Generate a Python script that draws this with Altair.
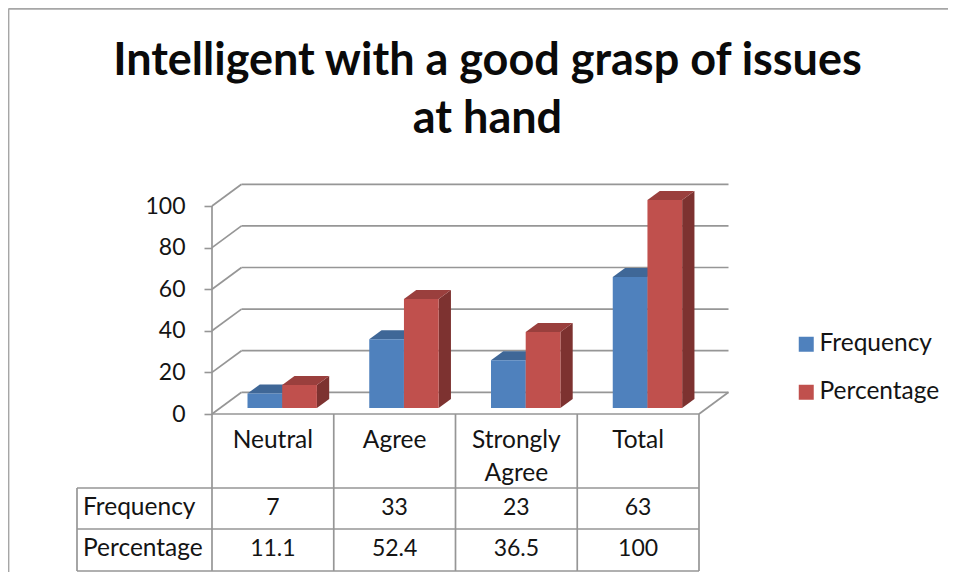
import altair as alt
import pandas as pd

categories = ["Neutral", "Agree", "Strongly Agree", "Total"]
frequency = [7, 33, 23, 63]
percentage = [11.1, 52.4, 36.5, 100]
table_freq = ["7", "33", "23", "63"]
table_pct = ["11.1", "52.4", "36.5", "100"]
ticks = [0, 20, 40, 60, 80, 100]

FONT = "Lato"
INK = "#141414"
GRID = "#969696"
W, H = 487, 208
PXX = W / 4
PXY = H / 100
DX, DY = 29.5 / PXX, 21.7 / PXY      # wall depth
BDX, BDY = 12.3 / PXX, 9.0 / PXY     # bar depth
LIFT = 6.0 / PXY                      # bars stand on the floor, off its front edge
START, BW = 35.5 / PXX, 34.7 / PXX    # bar inset and width


def py(v):
    """Value on the y scale for a distance below the zero line, in px."""
    return -v / PXY


def px(v):
    return v / PXX


XS = alt.X("x:Q", scale=alt.Scale(domain=[0, 4], nice=False, zero=False), axis=None)
YS = alt.Y("y:Q", scale=alt.Scale(domain=[0, 100], nice=False, zero=False),
           axis=alt.Axis(values=ticks, title=None, grid=False, domain=False,
                         tickColor=GRID, tickWidth=1.6, tickSize=8,
                         labelFont=FONT, labelFontSize=23, labelColor=INK,
                         labelPadding=19))

# ---- walls, floor and table lines -------------------------------------------
segs = []
for t in ticks:
    segs.append((0, t, DX, t + DY))
    segs.append((DX, t + DY, 4 + DX, t + DY))
segs.append((4, 0, 4 + DX, DY))
segs.append((0, 100, 0, py(157)))
segs.append((0, 0, 4, 0))
for i in range(1, 5):
    segs.append((i, 0, i, py(157)))
left = px(-135)
for r in (74, 115, 157):
    segs.append((left, py(r), 4, py(r)))
segs.append((left, py(74), left, py(157)))
lines = pd.DataFrame(segs, columns=["x", "y", "x2", "y2"])
rule = alt.Chart(lines).mark_rule(color=GRID, strokeWidth=1.7).encode(
    x=XS, y=YS, x2="x2:Q", y2="y2:Q")

# ---- bars -------------------------------------------------------------------
def faces(values, offset):
    side, top = [], []
    for i, v in enumerate(values):
        x0 = i + START + offset
        x1 = x0 + BW
        b, t = LIFT, v + LIFT
        side += [dict(k=i, x=x1, y=t, y2=b), dict(k=i, x=x1 + BDX, y=t + BDY, y2=b + BDY)]
        top += [dict(k=i, x=x0, y=t, y2=t),
                dict(k=i, x=x0 + BDX, y=t + BDY, y2=t),
                dict(k=i, x=x1, y=t + BDY, y2=t),
                dict(k=i, x=x1 + BDX, y=t + BDY, y2=t + BDY)]
    return pd.DataFrame(side), pd.DataFrame(top)


def area(df, color):
    return alt.Chart(df).mark_area(color=color, opacity=1, orient="vertical").encode(
        x=XS, y=YS, y2="y2:Q", detail="k:N")


front_rows = []
for name, vals, off in (("Frequency", frequency, 0), ("Percentage", percentage, BW)):
    for i, v in enumerate(vals):
        front_rows.append(dict(series=name, x=i + START + off, x2=i + START + off + BW,
                               y=v + LIFT, y2=LIFT))
front = pd.DataFrame(front_rows)


def bars(name):
    return alt.Chart(front[front.series == name]).mark_bar(opacity=1).encode(
        x=XS, x2="x2:Q", y=YS, y2="y2:Q",
        color=alt.Color("series:N",
                        scale=alt.Scale(domain=["Frequency", "Percentage"],
                                        range=["#4F81BD", "#C0504D"]),
                        legend=alt.Legend(title=None, orient="none", legendX=582, legendY=126,
                                          symbolType="square", symbolSize=225,
                                          symbolStrokeWidth=0, labelFont=FONT,
                                          labelFontSize=24.5, labelColor=INK, labelOffset=1,
                                          rowPadding=23)))


s_blue, t_blue = faces(frequency, 0)
s_red, t_red = faces(percentage, BW)

# ---- text -------------------------------------------------------------------
words = []
nums = []
for i, c in enumerate(categories):
    for j, p in enumerate(c.split(" ")):
        words.append(dict(x=i + 0.5, y=py(26.5 + 33 * j), t=p))
    nums.append(dict(x=i + 0.5, y=py(94), t=table_freq[i]))
    nums.append(dict(x=i + 0.5, y=py(135), t=table_pct[i]))
word_labels = alt.Chart(pd.DataFrame(words)).mark_text(
    font=FONT, fontSize=24.5, color=INK, baseline="middle", align="center"
).encode(x=XS, y=YS, text="t:N")
num_labels = alt.Chart(pd.DataFrame(nums)).mark_text(
    font=FONT, fontSize=23, color=INK, baseline="middle", align="center"
).encode(x=XS, y=YS, text="t:N")
row_df = pd.DataFrame([dict(x=px(-129), y=py(94), t="Frequency"),
                       dict(x=px(-129), y=py(135), t="Percentage")])
row_labels = alt.Chart(row_df).mark_text(
    font=FONT, fontSize=24.5, color=INK, baseline="middle", align="left"
).encode(x=XS, y=YS, text="t:N")

# ---- outer border -----------------------------------------------------------
top_edge = py(-405.3)
border = pd.DataFrame([dict(x=px(-203.6), y=top_edge, x2=px(743.7), y2=top_edge),
                       dict(x=px(-203.6), y=top_edge, x2=px(-203.6), y2=py(158))])
frame = alt.Chart(border).mark_rule(color="#A6A6A6", strokeWidth=2).encode(
    x=XS, y=YS, x2="x2:Q", y2="y2:Q")

chart = alt.layer(
    frame, rule,
    area(s_blue, "#3A5F8B"), area(t_blue, "#3F6797"), bars("Frequency"),
    area(s_red, "#7D3230"), area(t_red, "#9A3F3D"), bars("Percentage"),
    word_labels, num_labels, row_labels,
).properties(
    width=W, height=H,
    title=alt.TitleParams(
        text=["Intelligent with a good grasp of issues", "at hand"],
        font=FONT, fontSize=45, fontWeight="bold", color="#0A0A0A",
        anchor="middle", dx=32, offset=-134, lineHeight=58),
    padding={"left": 204, "top": 198, "right": 249, "bottom": 160},
    autosize=alt.AutoSizeParams(type="none"),
).configure_view(stroke=None)

chart.save("out.html", embed_options={"renderer": "svg", "actions": False})
